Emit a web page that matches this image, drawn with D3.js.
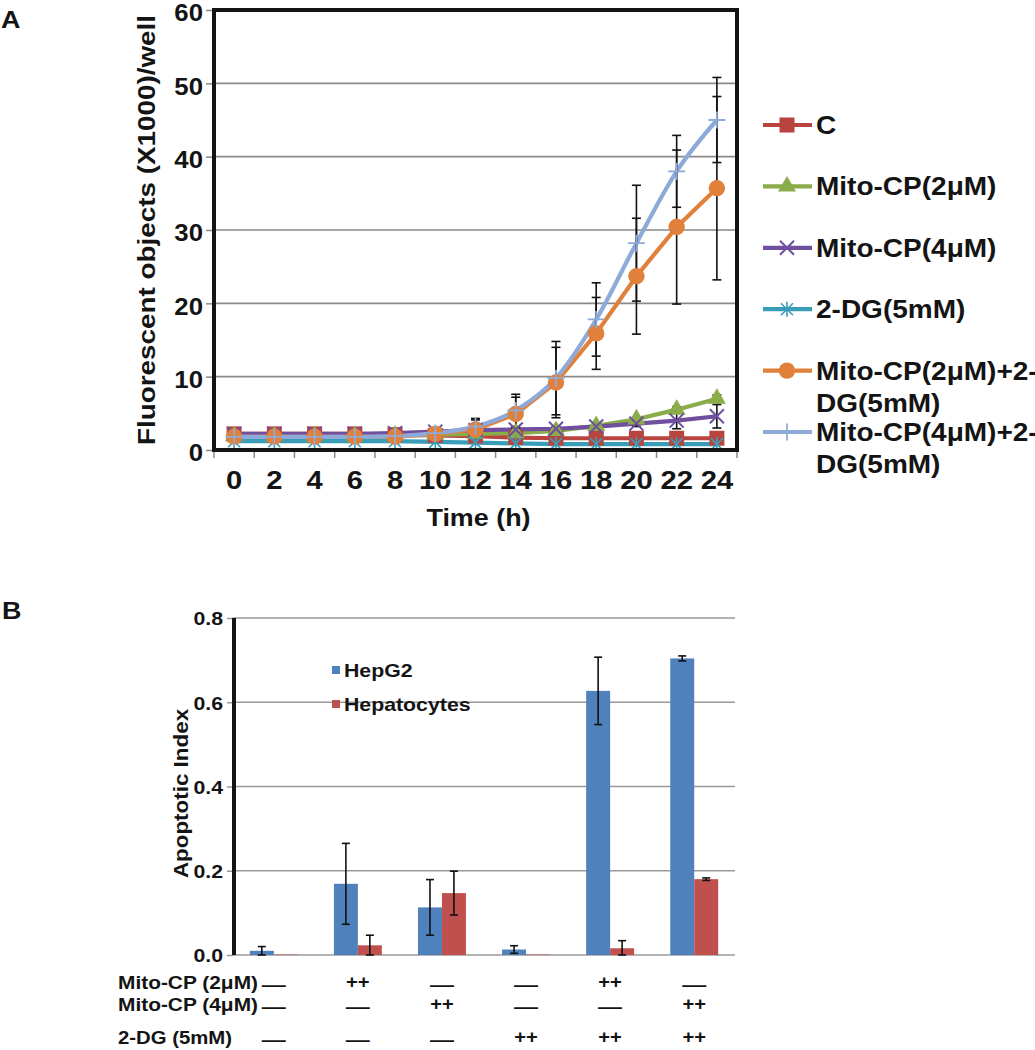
<!DOCTYPE html>
<html><head><meta charset="utf-8">
<script src="https://cdn.jsdelivr.net/npm/d3@7"></script>
<style>
body{margin:0;background:#fff}
text{font-family:"Liberation Sans",Arial,Helvetica,sans-serif;font-weight:bold;fill:#141414}
</style>
</head><body><svg id="c" width="1035" height="1050"></svg>
<script>
// ---------- Panel A data ----------
const times = [0,2,4,6,8,10,12,14,16,18,20,22,24];
const yTicksA = [0,10,20,30,40,50,60];
const seriesNames = ["C","Mito-CP(2μM)","Mito-CP(4μM)","2-DG(5mM)","Mito-CP(2μM)+2-DG(5mM)","Mito-CP(4μM)+2-DG(5mM)"];
const legendTextA = [["C"],["Mito-CP(2μM)"],["Mito-CP(4μM)"],["2-DG(5mM)"],["Mito-CP(2μM)+2-","DG(5mM)"],["Mito-CP(4μM)+2-","DG(5mM)"]];
const valC      = [2.2,2.2,2.2,2.2,2.1,2.0,1.9,1.7,1.6,1.6,1.6,1.6,1.6];
const valMito2  = [1.9,1.9,1.9,1.9,2.0,2.1,2.2,2.3,2.6,3.3,4.2,5.5,7.0];
const valMito4  = [2.2,2.2,2.2,2.2,2.3,2.5,2.7,2.8,2.9,3.2,3.6,4.0,4.6];
const valDG     = [1.2,1.2,1.2,1.2,1.2,1.1,1.0,0.9,0.8,0.8,0.8,0.8,0.8];
const valCombo2 = [1.8,1.8,1.8,1.8,1.8,2.2,2.8,4.9,9.2,15.9,23.7,30.4,35.7];
const valCombo4 = [1.8,1.8,1.8,1.8,1.9,2.3,3.2,5.4,9.8,17.8,28.2,38.0,45.0];
const errC      = [0,0,0,0,0,0,0,0,0,0,0,0,0];
const errMito2  = [0,0,0,0,0,0,0,0,0,0,0.3,0.4,0.5];
const errMito4  = [0,0,0,0,0,0,0,0.2,0.3,0.3,0.4,1.1,1.6];
const errDG     = [0,0,0,0,0,0,0,0,0,0,0,0,0];
const errCombo2 = [0,0,0,0,0,0.3,1.3,2.3,4.8,4.9,7.9,10.5,12.5];
const errCombo4 = [0,0,0,0,0,0.3,1.1,2.2,5.0,5.0,7.9,4.9,5.8];
const colorsA = ["#b8433f","#8aad49","#6f4f9e","#3a9db8","#e0803a","#8eaad8"];
const markersA = ["square","triangle","x","asterisk","circle","plus"];

// ---------- Panel B data ----------
const groups = ["Control","Mito-CP 2μM","Mito-CP 4μM","2-DG","Mito-CP 2μM + 2-DG","Mito-CP 4μM + 2-DG"];
const barSeries = ["HepG2","Hepatocytes"];
const hepG2 = [0.010,0.169,0.113,0.013,0.627,0.704];
const hepG2Err = [0.010,0.096,0.066,0.009,0.080,0.006];
const hepatocytes = [0.001,0.023,0.147,0.001,0.016,0.180];
const hepatocytesErr = [0,0.024,0.052,0,0.018,0.003];
const yTicksB = [0,0.2,0.4,0.6,0.8];
const barColors = ["#4f81bd","#c0504d"];
const tableLabels = ["Mito-CP (2μM)","Mito-CP (4μM)","2-DG (5mM)"];
const rowMito2 = ["—","++","—","—","++","—"];
const rowMito4 = ["—","—","++","—","—","++"];
const rowDG    = ["—","—","—","++","++","++"];

const svg = d3.select("#c");
const STRETCH = 1.12;
function stretch(sel, f){
  sel.each(function(){
    const L = this.getComputedTextLength();
    this.setAttribute("textLength", L*f);
    this.setAttribute("lengthAdjust","spacingAndGlyphs");
  });
}

// ================= PANEL A =================
const A = {l:214, r:737, t:10, b:450};
const xA = d3.scaleBand().domain(times).range([A.l, A.r]);
const yA = d3.scaleLinear().domain([0,60]).range([A.b, A.t]);
const gA = svg.append("g");

svg.append("text").attr("x",1).attr("y",28).attr("font-size",24).text("A").classed("s",true);

// gridlines
gA.append("g").selectAll("line").data(yTicksA.filter(v=>v>0 && v<60)).join("line")
  .attr("x1",A.l).attr("x2",A.r).attr("y1",d=>yA(d)).attr("y2",d=>yA(d))
  .attr("stroke","#8a8a8a").attr("stroke-width",1.6);

// y axis
const yAxA = gA.append("g").attr("transform",`translate(${A.l},0)`)
  .call(d3.axisLeft(yA).tickValues(yTicksA).tickSize(8).tickPadding(3));
yAxA.attr("font-size",null).attr("font-family",null);
yAxA.select(".domain").remove();
yAxA.selectAll(".tick line").attr("stroke","#8a8a8a").attr("stroke-width",1.5);
yAxA.selectAll(".tick text").attr("font-size",23).attr("fill","#141414").attr("dy","0.47em").classed("s",true);

// x axis labels
const xAxA = gA.append("g").attr("transform",`translate(0,${A.b})`)
  .call(d3.axisBottom(xA).tickSize(0).tickPadding(21));
xAxA.attr("font-size",null).attr("font-family",null);
xAxA.select(".domain").remove();
xAxA.selectAll(".tick text").attr("font-size",26).attr("fill","#141414").attr("dy","0.71em").classed("s",true);
// boundary ticks
gA.append("g").selectAll("line").data(times.concat(["end"])).join("line")
  .attr("x1",(d,i)=>A.l + i*xA.step()).attr("x2",(d,i)=>A.l + i*xA.step())
  .attr("y1",A.b+2).attr("y2",A.b+8).attr("stroke","#8a8a8a").attr("stroke-width",1.5);

gA.append("text").attr("x",(A.l+A.r)/2+3).attr("y",526).attr("text-anchor","middle")
  .attr("font-size",24).text("Time (h)").classed("s",true);
gA.append("text").attr("transform",`translate(155,${(A.t+A.b)/2}) rotate(-90)`)
  .attr("text-anchor","middle").attr("font-size",24)
  .attr("textLength",430).attr("lengthAdjust","spacingAndGlyphs")
  .text("Fluorescent objects (X1000)/well");

const seriesVals = [valC,valMito2,valMito4,valDG,valCombo2,valCombo4];
const seriesErr = [errC,errMito2,errMito4,errDG,errCombo2,errCombo4];
const data = seriesNames.map((n,i)=>({name:n, color:colorsA[i], marker:markersA[i],
  pts: times.map((t,j)=>({t, v:seriesVals[i][j], e:seriesErr[i][j]}))}));

// lines
const lineLin = d3.line().x(d=>xA(d.t)+xA.bandwidth()/2).y(d=>yA(d.v));
const lineSm = d3.line().x(d=>xA(d.t)+xA.bandwidth()/2).y(d=>yA(d.v)).curve(d3.curveMonotoneX);
const gLines = gA.append("g");
data.forEach((s,i)=>{
  gLines.append("path").datum(s.pts).attr("d", i===5 ? lineSm : lineLin)
    .attr("fill","none").attr("stroke",s.color).attr("stroke-width",4.2).attr("stroke-linejoin","round");
});

// error bars
const gErr = gA.append("g").attr("stroke","#111").attr("stroke-width",1.6);
data.forEach(s=>{
  s.pts.filter(p=>p.e>0).forEach(p=>{
    const cx = xA(p.t)+xA.bandwidth()/2;
    gErr.append("line").attr("x1",cx).attr("x2",cx).attr("y1",yA(p.v+p.e)).attr("y2",yA(p.v-p.e));
    [p.v+p.e,p.v-p.e].forEach(v=>gErr.append("line").attr("x1",cx-4.5).attr("x2",cx+4.5).attr("y1",yA(v)).attr("y2",yA(v)));
  });
});

function drawMarker(g, type, color, x, y){
  if(type==="square"){
    g.append("rect").attr("x",x-7.5).attr("y",y-7.5).attr("width",15).attr("height",15).attr("fill",color);
  } else if(type==="triangle"){
    g.append("path").attr("d",d3.symbol(d3.symbolTriangle,140)()).attr("transform",`translate(${x},${y})`).attr("fill",color);
  } else if(type==="circle"){
    g.append("circle").attr("cx",x).attr("cy",y).attr("r",8.2).attr("fill",color);
  } else if(type==="x"){
    g.append("path").attr("d",`M${x-7},${y-7}L${x+7},${y+7}M${x-7},${y+7}L${x+7},${y-7}`).attr("stroke",color).attr("stroke-width",2);
  } else if(type==="asterisk"){
    g.append("path").attr("d",`M${x-6},${y-6}L${x+6},${y+6}M${x-6},${y+6}L${x+6},${y-6}M${x},${y-7.5}L${x},${y+7.5}`).attr("stroke",color).attr("stroke-width",1.6);
  } else if(type==="plus"){
    g.append("path").attr("d",`M${x-8.5},${y}L${x+8.5},${y}M${x},${y-8.5}L${x},${y+8.5}`).attr("stroke",color).attr("stroke-width",1.8);
  }
}
const gMk = gA.append("g");
data.forEach(s=>{
  s.pts.forEach(p=>drawMarker(gMk, s.marker, s.color, xA(p.t)+xA.bandwidth()/2, yA(p.v)));
});

// frame
gA.append("rect").attr("x",A.l).attr("y",A.t).attr("width",A.r-A.l).attr("height",A.b-A.t)
  .attr("fill","none").attr("stroke","#141414").attr("stroke-width",4);

// legend A
const legY = d3.scalePoint().domain(seriesNames).range([125,432]);
const gLeg = svg.append("g");
data.forEach((s,i)=>{
  const cy = legY(s.name);
  gLeg.append("line").attr("x1",763).attr("x2",812).attr("y1",cy).attr("y2",cy).attr("stroke",s.color).attr("stroke-width",4.2);
  drawMarker(gLeg, s.marker, s.color, 787, cy);
  legendTextA[i].forEach((t,k)=>{
    gLeg.append("text").attr("x",816).attr("y",cy+9+k*32).attr("font-size",25).text(t).classed("s",true);
  });
});

// ================= PANEL B =================
const B = {l:233, r:735, t:618, b:955};
svg.append("text").attr("x",2).attr("y",619).attr("font-size",24).text("B").classed("s",true);
const x0 = d3.scaleBand().domain(groups).range([B.l,B.r]).paddingInner(0.43).paddingOuter(0.2);
const x1 = d3.scaleBand().domain(barSeries).range([0,x0.bandwidth()]);
const yB = d3.scaleLinear().domain([0,0.8]).range([B.b,B.t]);
const gB = svg.append("g");

gB.append("g").selectAll("line").data(yTicksB).join("line")
  .attr("x1",B.l).attr("x2",B.r).attr("y1",d=>yB(d)).attr("y2",d=>yB(d))
  .attr("stroke","#9a9a9a").attr("stroke-width",1.6);

const yAxB = gB.append("g").attr("transform",`translate(${B.l},0)`)
  .call(d3.axisLeft(yB).tickValues(yTicksB).tickFormat(d3.format(".1f")).tickSize(6).tickPadding(4));
yAxB.attr("font-size",null).attr("font-family",null);
yAxB.select(".domain").remove();
yAxB.selectAll(".tick line").attr("stroke","#9a9a9a").attr("stroke-width",1.5);
yAxB.selectAll(".tick text").attr("font-size",19).attr("fill","#141414").attr("dy","0.36em").classed("s",true);
gB.append("line").attr("x1",B.l+1).attr("x2",B.l+1).attr("y1",B.t).attr("y2",B.b).attr("stroke","#141414").attr("stroke-width",4);

gB.append("text").attr("transform",`translate(188,${(B.t+B.b)/2+7}) rotate(-90)`).attr("text-anchor","middle")
  .attr("font-size",20).text("Apoptotic Index").classed("s",true);

const barData = groups.map((g,i)=>({g, vals:[
  {s:"HepG2", v:hepG2[i], e:hepG2Err[i], c:barColors[0]},
  {s:"Hepatocytes", v:hepatocytes[i], e:hepatocytesErr[i], c:barColors[1]}]}));
const gBars = gB.append("g");
barData.forEach(d=>{
  d.vals.forEach(b=>{
    gBars.append("rect").attr("x",x0(d.g)+x1(b.s)).attr("width",x1.bandwidth())
      .attr("y",yB(b.v)).attr("height",yB(0)-yB(b.v)).attr("fill",b.c);
  });
});
const gEB = gB.append("g").attr("stroke","#111").attr("stroke-width",1.6);
barData.forEach(d=>{
  d.vals.filter(b=>b.e>0).forEach(b=>{
    const cx = x0(d.g)+x1(b.s)+x1.bandwidth()/2;
    const lo = Math.max(0,b.v-b.e);
    gEB.append("line").attr("x1",cx).attr("x2",cx).attr("y1",yB(b.v+b.e)).attr("y2",yB(lo));
    [b.v+b.e, lo].forEach(v=>gEB.append("line").attr("x1",cx-4).attr("x2",cx+4).attr("y1",yB(v)).attr("y2",yB(v)));
  });
});

// legend B
const legB = d3.scalePoint().domain(barSeries).range([670,704]);
barSeries.forEach((s,i)=>{
  gB.append("rect").attr("x",332).attr("y",legB(s)-4).attr("width",8).attr("height",8).attr("fill",barColors[i]);
  gB.append("text").attr("x",344).attr("y",legB(s)+6.5).attr("font-size",19).text(s).classed("s",true);
});

// table
const rowsData = [rowMito2,rowMito4,rowDG];
const rowY = [989,1011,1044];
const labelW = [140,140,114];
const gT = svg.append("g");
tableLabels.forEach((lab,r)=>{
  gT.append("text").attr("x",118).attr("y",rowY[r]).attr("font-size",18)
    .attr("textLength",labelW[r]).attr("lengthAdjust","spacingAndGlyphs").text(lab);
  rowsData[r].forEach((m,c)=>{
    const cx = x0(groups[c])+x0.bandwidth()/2;
    const t = gT.append("text").attr("x",cx).attr("text-anchor","middle").attr("font-size",18).text(m);
    if(m==="—"){ t.attr("y",rowY[r]+2).attr("textLength",24).attr("lengthAdjust","spacingAndGlyphs"); }
    else { t.attr("y",rowY[r]-1).classed("s",true); }
  });
});

stretch(svg.selectAll("text.s"), STRETCH);
</script>
</body></html>
